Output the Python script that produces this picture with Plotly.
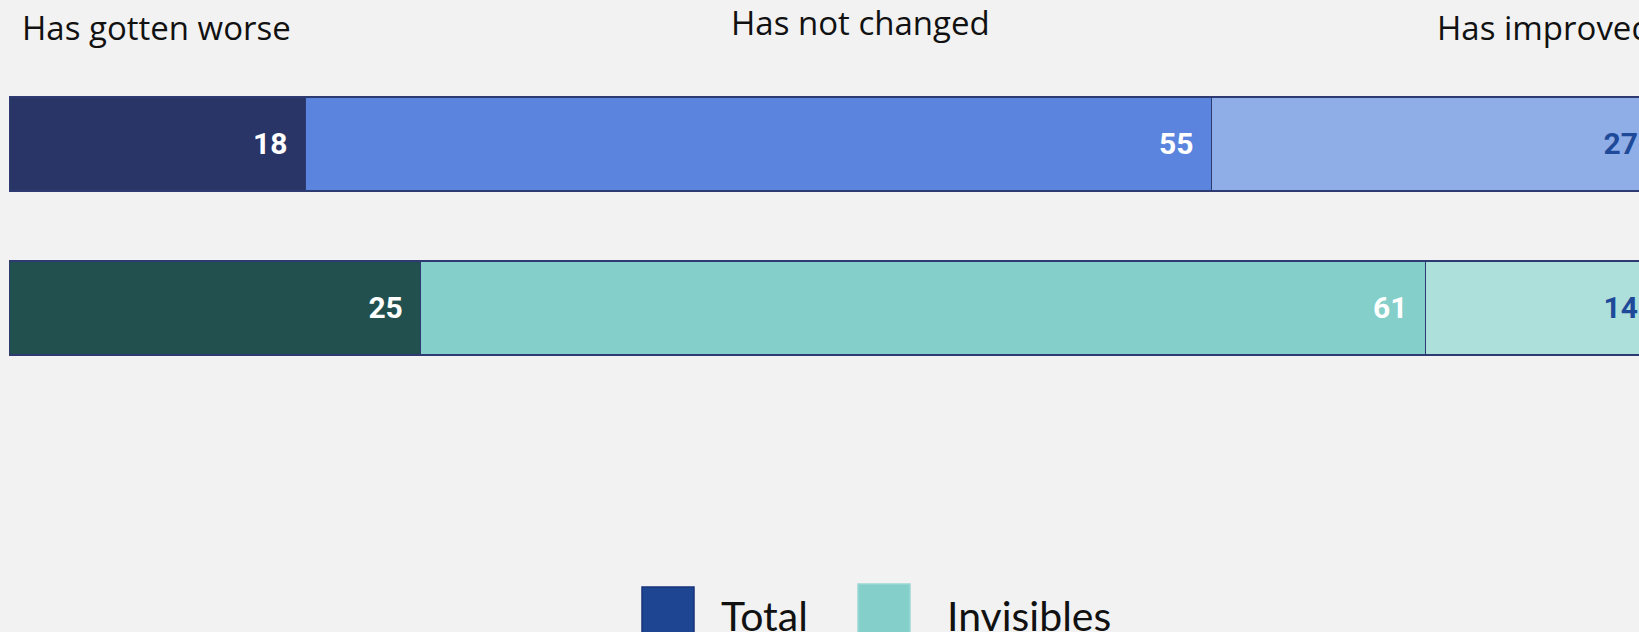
import plotly.graph_objects as go

# Survey groups (top to bottom) and answer shares in percent
groups = ["Total", "Invisibles"]
answers = ["Has gotten worse", "Has not changed", "Has improved"]
worse = [18, 25]
not_changed = [55, 61]
improved = [27, 14]

# Segment fills per group
fill_worse = ["#293567", "#21504f"]
fill_same = ["#5b84de", "#84cfca"]
fill_better = ["#8fade6", "#addfdb"]
label_dark = "#1f4a9a"
outline = "#2e3b72"

legend_colors = {"Total": "#1e4591", "Invisibles": "#84cfca"}

W, H = 1639, 632
ML = 9

fig = go.Figure()

segments = [
    (answers[0], worse, fill_worse, ["white", "white"]),
    (answers[1], not_changed, fill_same, ["white", "white"]),
    (answers[2], improved, fill_better, [label_dark, label_dark]),
]
for name, vals, fills, tcolors in segments:
    fig.add_trace(go.Bar(
        name=name,
        y=groups,
        x=vals,
        orientation="h",
        marker=dict(color=fills, line=dict(color=outline, width=1.5)),
        text=vals,
        texttemplate="%{x}\u00a0\u00a0",
        textposition="inside",
        insidetextanchor="end",
        textangle=0,
        constraintext="none",
        textfont=dict(family="Roboto", size=30, color=tcolors, weight="bold"),
        showlegend=False,
        hoverinfo="skip",
    ))


def px_x(px):
    return (px - ML) / (W - ML)


def px_y(py):
    return 1 - py / H


annotations = []
# Column headers above the bars
header_pos = [(20, 27, "left"), (860, 23, "center"), (1435, 27, "left")]
for text, (hx, hy, anchor) in zip(answers, header_pos):
    annotations.append(dict(
        text=text, xref="paper", yref="paper", x=px_x(hx), y=px_y(hy),
        xanchor=anchor, yanchor="middle", showarrow=False,
        font=dict(family="Open Sans", size=33, color="#111111"),
    ))

# Legend drawn as large swatches with labels
shapes = []
legend_items = [("Total", 642, 587, 719), ("Invisibles", 858, 584, 945)]
for label, sx, sy, tx in legend_items:
    col = legend_colors[label]
    shapes.append(dict(
        type="rect", xref="paper", yref="paper",
        x0=px_x(sx), x1=px_x(sx + 52), y0=px_y(sy), y1=px_y(H + 20),
        fillcolor=col,
        line=dict(color="#17357a" if label == "Total" else "#9ad8d3", width=1.5),
    ))
    annotations.append(dict(
        text=label, xref="paper", yref="paper", x=px_x(tx), y=px_y(615),
        xanchor="left", yanchor="middle", showarrow=False,
        font=dict(family="Lato", size=41, color="#111111"),
    ))

fig.update_layout(
    width=W, height=H,
    margin=dict(l=ML, r=0, t=0, b=0),
    barmode="stack",
    bargap=0.427,
    paper_bgcolor="#f2f2f2",
    plot_bgcolor="#f2f2f2",
    xaxis=dict(range=[0, 98.97], visible=False, fixedrange=True),
    yaxis=dict(range=[2.976, -0.878], visible=False, fixedrange=True,
               categoryorder="array", categoryarray=groups),
    annotations=annotations,
    shapes=shapes,
    showlegend=False,
)

fig.write_html("out.html")
